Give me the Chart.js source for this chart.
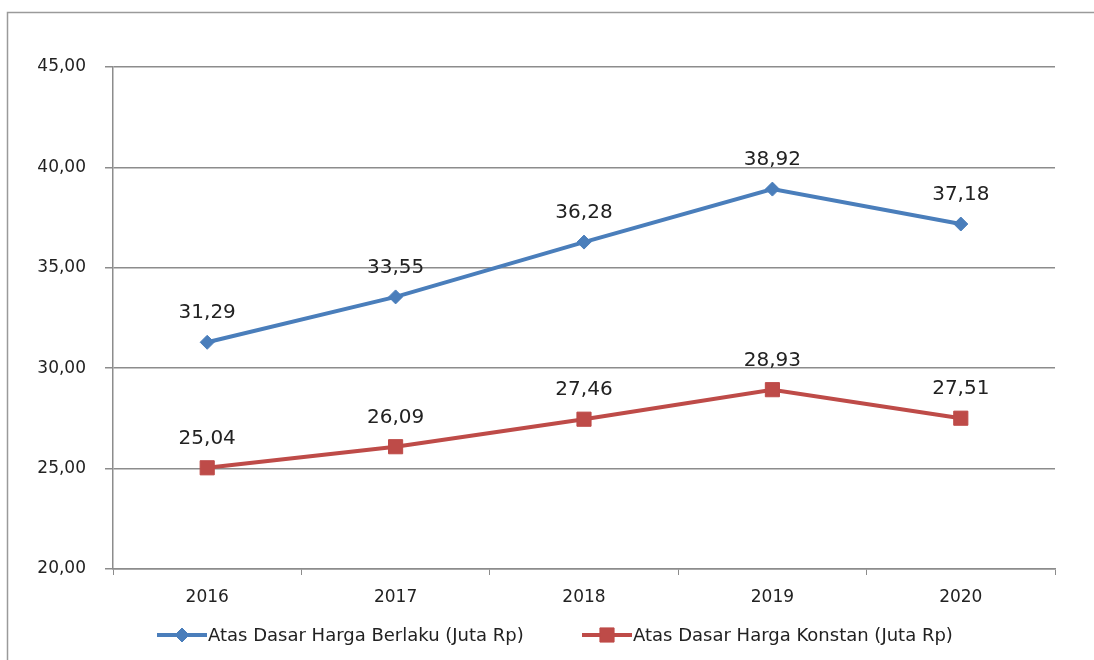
<!DOCTYPE html>
<html>
<head>
<meta charset="utf-8">
<script src="https://cdn.jsdelivr.net/npm/chart.js@4.4.1/dist/chart.umd.min.js"></script>
<style>
  html, body { margin: 0; padding: 0; background: #fff; overflow: hidden; }
</style>
</head>
<body>
<canvas id="chart" width="1094" height="660"></canvas>
<script>
var years = ['2016', '2017', '2018', '2019', '2020'];
var berlaku = [31.29, 33.55, 36.28, 38.92, 37.18];
var konstan = [25.04, 26.09, 27.46, 28.93, 27.51];
var labelBerlaku = 'Atas Dasar Harga Berlaku (Juta Rp)';
var labelKonstan = 'Atas Dasar Harga Konstan (Juta Rp)';

var fmt = function (v) { return v.toFixed(2).replace('.', ','); };
var FONT = '"DejaVu Sans", Verdana, sans-serif';

// outer frame, value labels and the legend
var extras = {
  id: 'extras',
  beforeDraw: function (chart) {
    var ctx = chart.ctx;
    ctx.save();
    ctx.strokeStyle = '#9a9a9a';
    ctx.lineWidth = 1.5;
    ctx.beginPath();
    ctx.moveTo(7.5, 660);
    ctx.lineTo(7.5, 12.5);
    ctx.lineTo(1094, 12.5);
    ctx.stroke();
    ctx.restore();
  },
  afterDatasetsDraw: function (chart) {
    var ctx = chart.ctx;
    ctx.save();
    ctx.font = '20px ' + FONT;
    ctx.fillStyle = '#222';
    ctx.textAlign = 'center';
    ctx.textBaseline = 'middle';
    chart.data.datasets.forEach(function (ds, i) {
      chart.getDatasetMeta(i).data.forEach(function (pt, j) {
        ctx.fillText(fmt(ds.data[j]), pt.x, pt.y - 29);
      });
    });

    // legend
    var starts = [157, 582];
    ctx.font = '18px ' + FONT;
    ctx.textAlign = 'left';
    chart.data.datasets.forEach(function (ds, i) {
      var x0 = starts[i], y = 635;
      ctx.strokeStyle = ds.borderColor;
      ctx.lineWidth = 4;
      ctx.beginPath();
      ctx.moveTo(x0, y);
      ctx.lineTo(x0 + 50, y);
      ctx.stroke();
      ctx.fillStyle = ds.backgroundColor;
      ctx.lineWidth = 1;
      Chart.helpers.drawPoint(ctx, {
        pointStyle: ds.pointStyle,
        radius: ds.pointRadius,
        borderWidth: 1
      }, x0 + 25, y);
      ctx.fillStyle = '#222';
      ctx.fillText(ds.label, x0 + 51, y + 1);
    });
    ctx.restore();
  }
};

var chart = new Chart(document.getElementById('chart'), {
  type: 'line',
  data: {
    labels: years,
    datasets: [
      {
        label: labelBerlaku,
        data: berlaku,
        borderColor: '#4a7ebb',
        backgroundColor: '#4a7ebb',
        borderWidth: 4,
        pointStyle: 'rectRot',
        pointRadius: 7,
        pointBorderWidth: 1,
        tension: 0
      },
      {
        label: labelKonstan,
        data: konstan,
        borderColor: '#be4b48',
        backgroundColor: '#be4b48',
        borderWidth: 4,
        pointStyle: 'rect',
        pointRadius: 10,
        pointBorderWidth: 1,
        tension: 0
      }
    ]
  },
  options: {
    responsive: false,
    animation: false,
    layout: { padding: { top: 67, right: 39, left: 0, bottom: 0 } },
    plugins: {
      legend: { display: false },
      tooltip: { enabled: false }
    },
    scales: {
      x: {
        offset: true,
        afterFit: function (s) { s.height = 91; },
        grid: {
          offset: true,
          drawOnChartArea: false,
          drawTicks: true,
          tickLength: 6,
          color: '#8c8c8c'
        },
        border: { color: '#8c8c8c', width: 1.5 },
        ticks: {
          color: '#222',
          padding: 12,
          font: { family: FONT, size: 17 }
        }
      },
      y: {
        min: 20,
        max: 45,
        afterFit: function (s) { s.width = 113; },
        grid: {
          color: '#8c8c8c',
          lineWidth: 1.5,
          tickLength: 8
        },
        border: { color: '#8c8c8c', width: 1.5 },
        ticks: {
          stepSize: 5,
          color: '#222',
          padding: 19,
          font: { family: FONT, size: 17 },
          callback: function (v) { return fmt(v); }
        }
      }
    }
  },
  plugins: [extras]
});
</script>
</body>
</html>
